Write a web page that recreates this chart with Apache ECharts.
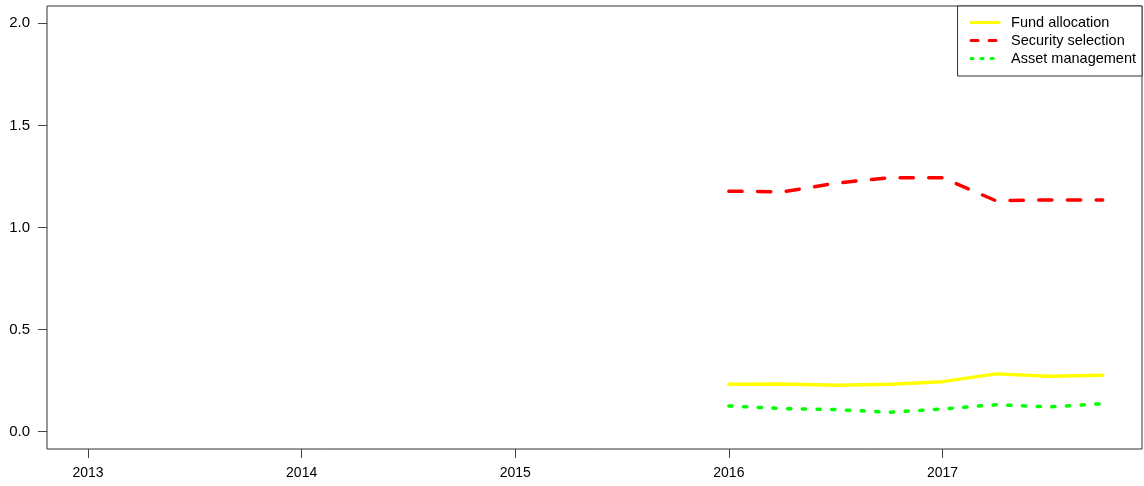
<!DOCTYPE html>
<html>
<head>
<meta charset="utf-8">
<script src="https://cdn.jsdelivr.net/npm/echarts@6/dist/echarts.min.js"></script>
<style>
  html, body { margin: 0; padding: 0; background: #fff; }
  #chart { width: 1144px; height: 486px; }
</style>
</head>
<body>
<div id="chart"></div>
<script>
// quarterly time points (decimal years)
let quarters = [2016.0, 2016.25, 2016.5, 2016.75, 2017.0, 2017.25, 2017.5, 2017.75];
let fundAllocation = [0.232, 0.234, 0.227, 0.232, 0.245, 0.283, 0.271, 0.276];
let securitySelection = [1.178, 1.174, 1.217, 1.244, 1.244, 1.131, 1.135, 1.135];
let assetManagement = [0.126, 0.113, 0.108, 0.095, 0.111, 0.132, 0.121, 0.137];
let xTicks = [2013, 2014, 2015, 2016, 2017];
let yTicks = [0, 0.5, 1.0, 1.5, 2.0];

function pairs(values) {
    return quarters.map(function (q, i) {
        return [q, values[i]];
    });
}

let chart = echarts.init(document.getElementById('chart'), null, { renderer: 'canvas' });

let font = 'Liberation Sans, Arial, Helvetica, sans-serif';

let option = {
    animation: false,
    backgroundColor: '#fff',
    grid: {
        left: 47,
        right: 2,
        top: 6,
        bottom: 37,
        show: true,
        borderColor: '#333',
        borderWidth: 1,
        backgroundColor: 'transparent'
    },
    legend: {
        orient: 'vertical',
        right: 2,
        top: 6,
        align: 'left',
        padding: [9, 6, 10, 12],
        itemWidth: 28,
        itemHeight: 14,
        itemGap: 3,
        borderColor: '#333',
        borderWidth: 1,
        backgroundColor: '#fff',
        itemStyle: { opacity: 0 },
        textStyle: {
            fontFamily: font,
            fontSize: 14.5,
            color: '#000',
            padding: [0, 0, 0, 7]
        },
        data: [{
            name: 'Fund allocation',
            lineStyle: { width: 3, type: 'solid' }
        }, {
            name: 'Security selection',
            lineStyle: { width: 3, type: [7, 11], cap: 'round' }
        }, {
            name: 'Asset management',
            lineStyle: { width: 3, type: [2, 8], cap: 'round' }
        }]
    },
    xAxis: {
        type: 'value',
        min: 2012.808,
        max: 2017.934,
        splitLine: { show: false },
        axisLine: { show: false, onZero: false },
        axisTick: {
            show: true,
            inside: false,
            length: 9,
            customValues: xTicks,
            lineStyle: { color: '#444', width: 1 }
        },
        axisLabel: {
            customValues: xTicks,
            margin: 17,
            fontFamily: font,
            fontSize: 14,
            color: '#000',
            formatter: function (v) { return String(Math.round(v)); }
        }
    },
    yAxis: {
        type: 'value',
        min: -0.085,
        max: 2.085,
        splitLine: { show: false },
        axisLine: { show: false, onZero: false },
        axisTick: {
            show: true,
            inside: false,
            length: 9,
            customValues: yTicks,
            lineStyle: { color: '#444', width: 1 }
        },
        axisLabel: {
            customValues: yTicks,
            margin: 17,
            fontFamily: font,
            fontSize: 15,
            color: '#000',
            formatter: function (v) { return v.toFixed(1); }
        }
    },
    series: [{
        name: 'Fund allocation',
        type: 'line',
        data: pairs(fundAllocation),
        showSymbol: false,
        symbol: 'none',
        lineStyle: { color: '#ffff00', width: 3.5, type: 'solid', cap: 'round' },
        itemStyle: { color: '#ffff00' }
    }, {
        name: 'Security selection',
        type: 'line',
        data: pairs(securitySelection),
        showSymbol: false,
        symbol: 'none',
        lineStyle: { color: '#ff0000', width: 3.5, type: [13.2, 15.5], cap: 'round' },
        itemStyle: { color: '#ff0000' }
    }, {
        name: 'Asset management',
        type: 'line',
        data: pairs(assetManagement),
        showSymbol: false,
        symbol: 'none',
        lineStyle: { color: '#00ff00', width: 3.5, type: [3.2, 11.5], cap: 'round' },
        itemStyle: { color: '#00ff00' }
    }]
};

chart.setOption(option);
</script>
</body>
</html>
